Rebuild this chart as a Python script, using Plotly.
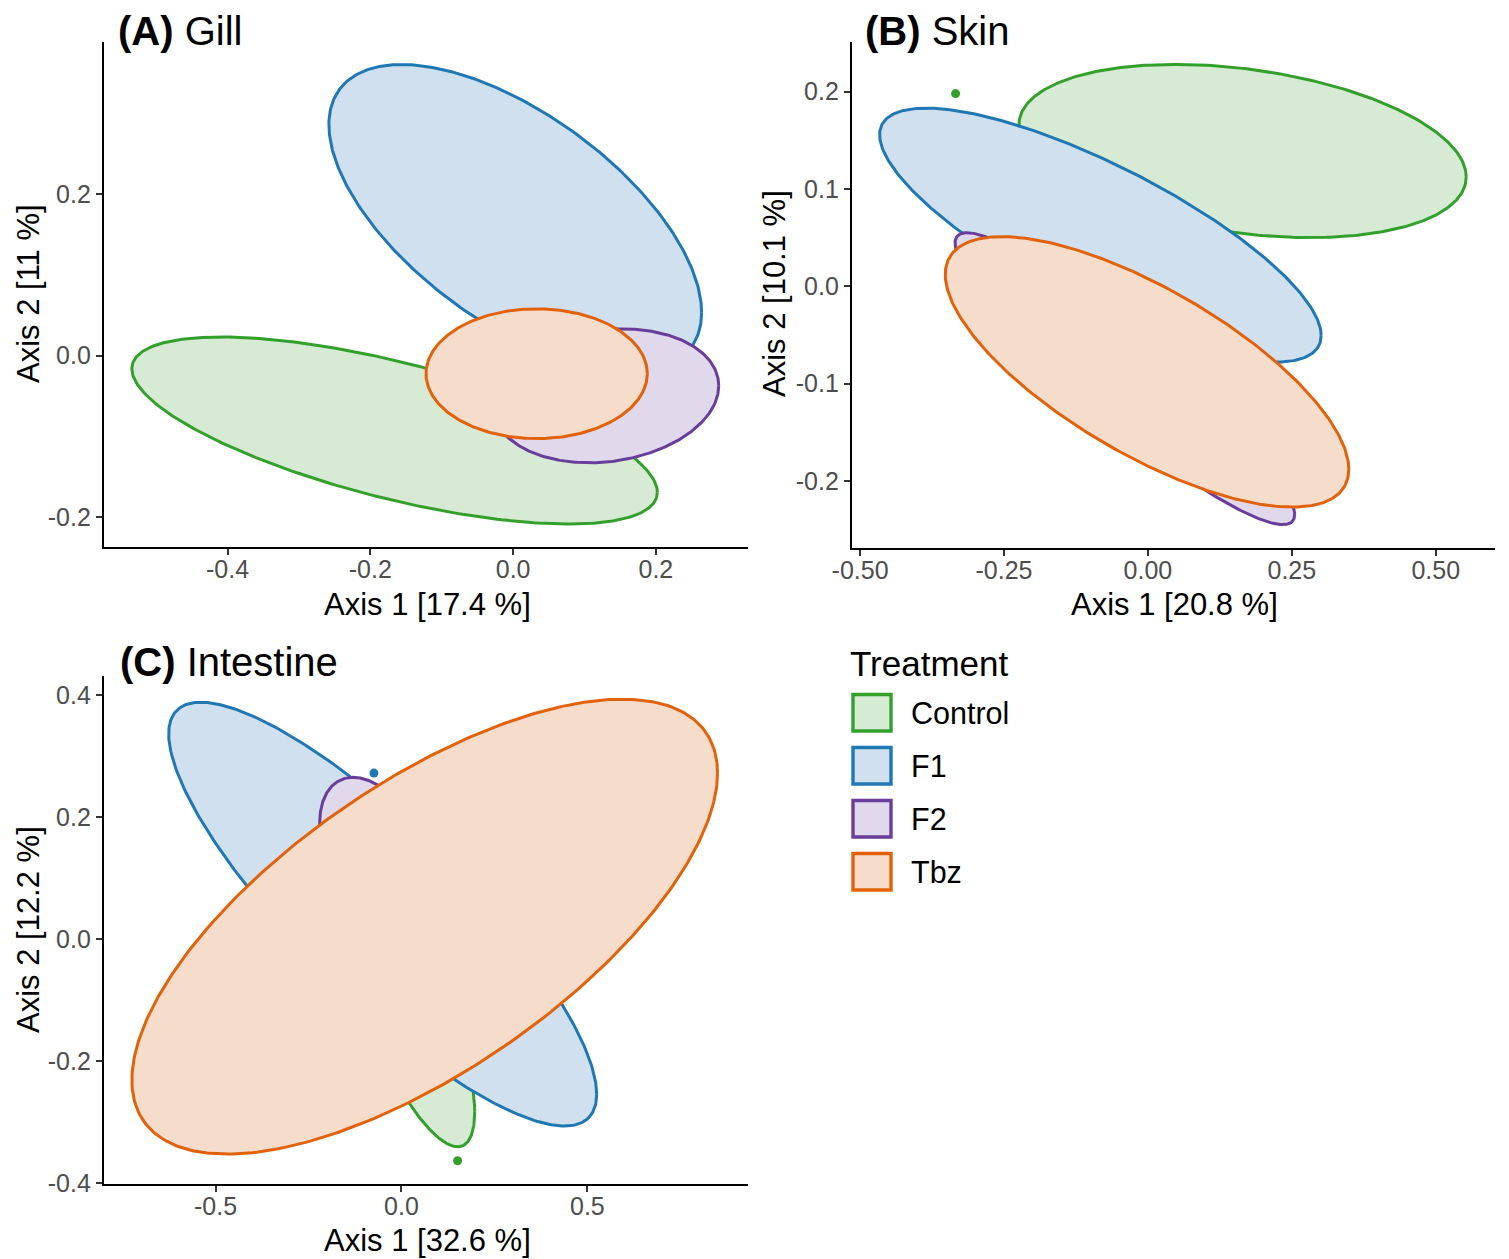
import numpy as np
import plotly.graph_objects as go

# ---------------- data ----------------
groups = ["Control", "F1", "F2", "Tbz"]

# ellipse parameters per group: centre, half x-extent, half y-extent, correlation
gill_cx = [-0.166, 0.003, 0.130, 0.033]
gill_cy = [-0.093, 0.170, -0.050, -0.0225]
gill_rx = [0.368, 0.261, 0.158, 0.155]
gill_ry = [0.116, 0.191, 0.083, 0.0805]
gill_rho = [-0.66, -0.61, 0.15, 0.0]

skin_cx = [0.1645, -0.0825, -0.040, -0.0015]
skin_cy = [0.139, 0.0525, -0.095, -0.088]
skin_rx = [0.3885, 0.3835, 0.295, 0.3505]
skin_ry = [0.089, 0.1305, 0.150, 0.139]
skin_rho = [-0.30, -0.79, -0.93, -0.72]

int_cx = [0.020, -0.0505, -0.070, 0.0625]
int_cy = [-0.120, 0.041, 0.140, 0.0205]
int_rx = [0.177, 0.5755, 0.150, 0.7875]
int_ry = [0.220, 0.347, 0.125, 0.3725]
int_rho = [-0.74, -0.85, -0.40, 0.675]

# isolated points outside ellipses
skin_pt_group = ["Control"]
skin_pt_x = [-0.334]
skin_pt_y = [0.198]
int_pt_group = ["F1", "Control"]
int_pt_x = [-0.074, 0.151]
int_pt_y = [0.272, -0.363]

# tick labels
gill_xticks = [-0.4, -0.2, 0.0, 0.2]
gill_xlabels = ["-0.4", "-0.2", "0.0", "0.2"]
gill_yticks = [-0.2, 0.0, 0.2]
gill_ylabels = ["-0.2", "0.0", "0.2"]
skin_xticks = [-0.5, -0.25, 0.0, 0.25, 0.5]
skin_xlabels = ["-0.50", "-0.25", "0.00", "0.25", "0.50"]
skin_yticks = [-0.2, -0.1, 0.0, 0.1, 0.2]
skin_ylabels = ["-0.2", "-0.1", "0.0", "0.1", "0.2"]
int_xticks = [-0.5, 0.0, 0.5]
int_xlabels = ["-0.5", "0.0", "0.5"]
int_yticks = [-0.4, -0.2, 0.0, 0.2, 0.4]
int_ylabels = ["-0.4", "-0.2", "0.0", "0.2", "0.4"]

# ---------------- styles ----------------
line_col = {"Control": "#33a02c", "F1": "#1f78b4", "F2": "#6a3d9a", "Tbz": "#e1620b"}
fill_col = {"Control": "#d6ead4", "F1": "#d0e0ef", "F2": "#e0d8eb", "Tbz": "#f6dccb"}

# the page body has an 8 px margin; size the figure so it fits the window
OFF = 8
W, H = 1509 - OFF, 1259 - OFF
FONT = "Liberation Sans, Arial, sans-serif"


def px(x):
    return (x - OFF) / W


def py(y):
    return 1 - (y - OFF) / H


def ellipse(cx, cy, rx, ry, rho, n=361):
    t = np.linspace(0, 2 * np.pi, n)
    d = np.arccos(rho)
    return cx + rx * np.cos(t), cy + ry * np.cos(t + d)


fig = go.Figure()

panels = [
    ("x", "y", gill_cx, gill_cy, gill_rx, gill_ry, gill_rho, [], [], []),
    ("x2", "y2", skin_cx, skin_cy, skin_rx, skin_ry, skin_rho, skin_pt_group, skin_pt_x, skin_pt_y),
    ("x3", "y3", int_cx, int_cy, int_rx, int_ry, int_rho, int_pt_group, int_pt_x, int_pt_y),
]

for xa, ya, cxs, cys, rxs, rys, rhos, pg, pxs, pys in panels:
    for g, cx, cy, rx, ry, rho in zip(groups, cxs, cys, rxs, rys, rhos):
        ex, ey = ellipse(cx, cy, rx, ry, rho)
        fig.add_trace(go.Scatter(
            x=ex, y=ey, mode="lines", fill="toself",
            fillcolor=fill_col[g], line=dict(color=line_col[g], width=3),
            xaxis=xa, yaxis=ya, showlegend=False, hoverinfo="skip", name=g))
    for g, x, y in zip(pg, pxs, pys):
        fig.add_trace(go.Scatter(
            x=[x], y=[y], mode="markers",
            marker=dict(color=line_col[g], size=9),
            xaxis=xa, yaxis=ya, showlegend=False, name=g))

axis_common = dict(
    showline=True, linecolor="black", linewidth=2.4, showgrid=False, zeroline=False,
    ticks="outside", ticklen=6, tickwidth=2, tickcolor="#333333", automargin=False,
    tickfont=dict(family=FONT, size=25, color="#4d4d4d"), mirror=False,
)
xaxis_extra = dict(ticklabelstandoff=-7)

fig.update_layout(
    template="none",
    width=W, height=H, margin=dict(l=0, r=0, t=0, b=0, pad=0), autosize=False,
    paper_bgcolor="white", plot_bgcolor="white", showlegend=False,
    xaxis=dict(domain=[px(104), px(748)], range=[-0.573, 0.329], anchor="y",
               tickvals=gill_xticks, ticktext=gill_xlabels, **axis_common, **xaxis_extra),
    yaxis=dict(domain=[py(547), py(42)], range=[-0.2375, 0.389], anchor="x",
               tickvals=gill_yticks, ticktext=gill_ylabels, **axis_common),
    xaxis2=dict(domain=[px(852), px(1495)], range=[-0.514, 0.603], anchor="y2",
                tickvals=skin_xticks, ticktext=skin_xlabels, **axis_common, **xaxis_extra),
    yaxis2=dict(domain=[py(548), py(42)], range=[-0.269, 0.251], anchor="x2",
                tickvals=skin_yticks, ticktext=skin_ylabels, **axis_common),
    xaxis3=dict(domain=[px(104), px(748)], range=[-0.80, 0.932], anchor="y3",
                tickvals=int_xticks, ticktext=int_xlabels, **axis_common, **xaxis_extra),
    yaxis3=dict(domain=[py(1184), py(676)], range=[-0.401, 0.431], anchor="x3",
                tickvals=int_yticks, ticktext=int_ylabels, **axis_common),
)

ann = []


def text(x, y, s, size, xanchor="center", yanchor="middle", angle=0, color="black"):
    ann.append(dict(x=px(x), y=py(y), xref="paper", yref="paper", text=s, showarrow=False,
                    xanchor=xanchor, yanchor=yanchor, textangle=angle,
                    font=dict(family=FONT, size=size, color=color)))


# panel titles
text(116, 31, "<b>(A)</b> Gill", 40, xanchor="left")
text(863, 31, "<b>(B)</b> Skin", 40, xanchor="left")
text(118, 662, "<b>(C)</b> Intestine", 40, xanchor="left")
# axis titles
text(427, 604, "Axis 1 [17.4 %]", 31)
text(28, 294, "Axis 2 [11 %]", 31, angle=-90)
text(1174, 604, "Axis 1 [20.8 %]", 31)
text(774, 294, "Axis 2 [10.1 %]", 31, angle=-90)
text(427, 1240, "Axis 1 [32.6 %]", 31)
text(28, 930, "Axis 2 [12.2 %]", 31, angle=-90)

# legend
text(848, 663, "Treatment", 35, xanchor="left")
shapes = []
leg_top = [693, 746, 799, 852]
for g, top in zip(groups, leg_top):
    shapes.append(dict(type="rect", xref="paper", yref="paper",
                       x0=px(853), x1=px(891), y0=py(top + 38), y1=py(top + 1.5),
                       fillcolor=fill_col[g], line=dict(color=line_col[g], width=3.4)))
    text(909, top + 20, g, 30.5, xanchor="left")

fig.update_layout(annotations=ann, shapes=shapes)
fig.write_html("out.html")
